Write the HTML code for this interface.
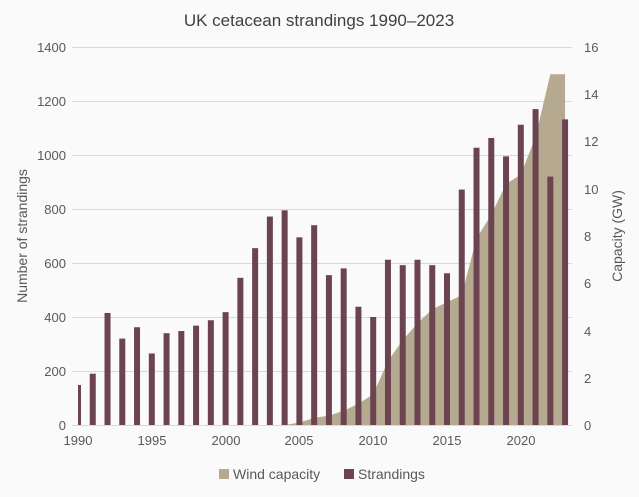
<!DOCTYPE html>
<html><head><meta charset="utf-8"><style>
body{margin:0;background:#fafafa;}
text{font-family:"Liberation Sans",sans-serif;fill:#595959;}
</style></head><body>
<svg width="639" height="492" xmlns="http://www.w3.org/2000/svg">
<rect width="639" height="492" fill="#fafafa"/>
<text x="319" y="26" text-anchor="middle" font-size="17" style="fill:#404040">UK cetacean strandings 1990–2023</text>
<g stroke="#d9d9d9" stroke-width="1">
<line x1="72" x2="572" y1="47.5" y2="47.5"/><line x1="72" x2="572" y1="101.5" y2="101.5"/>
<line x1="72" x2="572" y1="155.5" y2="155.5"/><line x1="72" x2="572" y1="209.5" y2="209.5"/>
<line x1="72" x2="572" y1="263.5" y2="263.5"/><line x1="72" x2="572" y1="317.5" y2="317.5"/>
<line x1="72" x2="572" y1="371.5" y2="371.5"/><line x1="72" x2="572" y1="425.5" y2="425.5"/>
</g>
<path d="M284.64,425 L299.4,422.6 L314.16,417.9 L328.92,415.6 L343.68,410.8 L358.44,403.7 L373.2,394.3 L387.96,361.2 L402.72,340 L417.48,323.4 L432.24,309.2 L447,302.2 L461.76,295.1 L476.52,238.4 L491.28,214.7 L506.04,184 L520.8,174.6 L535.56,136.8 L550.32,74.2 L565.08,74.2 L565.08,425 Z" fill="#b5aa90"/>
<g fill="#6b4450">
<rect x="78" y="385" width="3" height="40"/>
<rect x="89.76" y="373.7" width="6" height="51.3"/>
<rect x="104.52" y="312.95" width="6" height="112.05"/>
<rect x="119.28" y="338.6" width="6" height="86.4"/>
<rect x="134.04" y="327.26" width="6" height="97.74"/>
<rect x="148.8" y="353.45" width="6" height="71.55"/>
<rect x="163.56" y="333.2" width="6" height="91.8"/>
<rect x="178.32" y="331.04" width="6" height="93.96"/>
<rect x="193.08" y="325.64" width="6" height="99.36"/>
<rect x="207.84" y="320.24" width="6" height="104.76"/>
<rect x="222.6" y="312.14" width="6" height="112.86"/>
<rect x="237.36" y="277.85" width="6" height="147.15"/>
<rect x="252.12" y="248.15" width="6" height="176.85"/>
<rect x="266.88" y="216.56" width="6" height="208.44"/>
<rect x="281.64" y="210.35" width="6" height="214.65"/>
<rect x="296.4" y="237.35" width="6" height="187.65"/>
<rect x="311.16" y="225.2" width="6" height="199.8"/>
<rect x="325.92" y="275.15" width="6" height="149.85"/>
<rect x="340.68" y="268.4" width="6" height="156.6"/>
<rect x="355.44" y="306.74" width="6" height="118.26"/>
<rect x="370.2" y="317" width="6" height="108"/>
<rect x="384.96" y="259.76" width="6" height="165.24"/>
<rect x="399.72" y="265.16" width="6" height="159.84"/>
<rect x="414.48" y="259.76" width="6" height="165.24"/>
<rect x="429.24" y="265.16" width="6" height="159.84"/>
<rect x="444" y="273.26" width="6" height="151.74"/>
<rect x="458.76" y="189.56" width="6" height="235.44"/>
<rect x="473.52" y="147.71" width="6" height="277.29"/>
<rect x="488.28" y="137.99" width="6" height="287.01"/>
<rect x="503.04" y="156.35" width="6" height="268.65"/>
<rect x="517.8" y="124.76" width="6" height="300.24"/>
<rect x="532.56" y="109.1" width="6" height="315.9"/>
<rect x="547.32" y="176.6" width="6" height="248.4"/>
<rect x="562.08" y="119.36" width="6" height="305.64"/>
</g>
<g font-size="13" text-anchor="end">
<text x="66" y="52">1400</text><text x="66" y="106">1200</text><text x="66" y="160">1000</text>
<text x="66" y="214">800</text><text x="66" y="268">600</text><text x="66" y="322">400</text>
<text x="66" y="376">200</text><text x="66" y="430">0</text>
</g>
<g font-size="13" text-anchor="start">
<text x="584" y="52">16</text><text x="584" y="99">14</text><text x="584" y="146">12</text>
<text x="584" y="194">10</text><text x="584" y="241">8</text><text x="584" y="288">6</text>
<text x="584" y="336">4</text><text x="584" y="383">2</text><text x="584" y="430">0</text>
</g>
<g font-size="13" text-anchor="middle">
<text x="78" y="445">1990</text><text x="152" y="445">1995</text><text x="226" y="445">2000</text>
<text x="299" y="445">2005</text><text x="373" y="445">2010</text><text x="447" y="445">2015</text>
<text x="521" y="445">2020</text>
</g>
<text transform="translate(27,236) rotate(-90)" font-size="14" text-anchor="middle">Number of strandings</text>
<text transform="translate(622,236) rotate(-90)" font-size="14" text-anchor="middle">Capacity (GW)</text>
<rect x="219" y="469" width="10" height="10" fill="#b5aa90"/>
<text x="233" y="479" font-size="14">Wind capacity</text>
<rect x="344" y="469" width="10" height="10" fill="#6b4450"/>
<text x="358" y="479" font-size="14">Strandings</text>
</svg>
</body></html>
